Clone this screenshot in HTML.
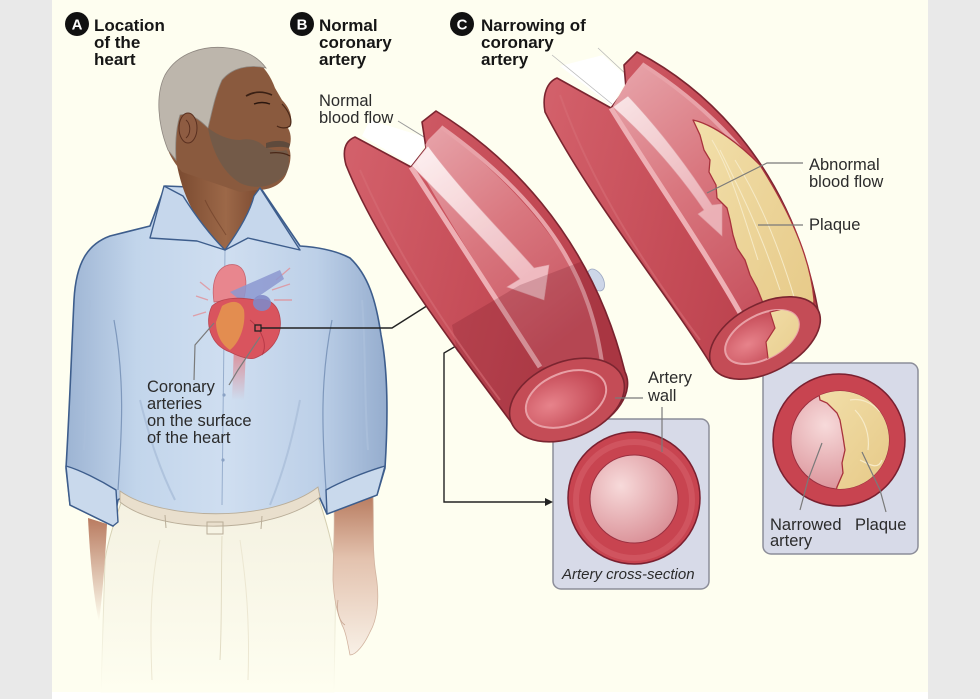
<!DOCTYPE html>
<html>
<head>
<meta charset="utf-8">
<style>
html,body{margin:0;padding:0;background:#e9e9e9;}
svg{display:block;}
text{font-family:"Liberation Sans",Arial,sans-serif;}
.h{font-weight:bold;font-size:17px;fill:#161616;}
.l{font-size:16.5px;fill:#2b2b2b;}
</style>
</head>
<body>
<svg width="980" height="699" viewBox="0 0 980 699" xmlns="http://www.w3.org/2000/svg">
<defs>
  <linearGradient id="shirtG" x1="0" y1="0" x2="1" y2="0">
    <stop offset="0" stop-color="#9DB4D3"/>
    <stop offset="0.22" stop-color="#C2D5EB"/>
    <stop offset="0.5" stop-color="#CFDEF0"/>
    <stop offset="0.78" stop-color="#BDD0E8"/>
    <stop offset="1" stop-color="#95ADCE"/>
  </linearGradient>
  <linearGradient id="pantsG" x1="0" y1="0" x2="0" y2="1">
    <stop offset="0" stop-color="#F4F1E1"/>
    <stop offset="1" stop-color="#FEFEF0"/>
  </linearGradient>
  <linearGradient id="pantsStroke" x1="0" y1="0" x2="0" y2="1">
    <stop offset="0" stop-color="#CDC6A6"/>
    <stop offset="1" stop-color="#FEFEF0"/>
  </linearGradient>
  <linearGradient id="tubeG" x1="0" y1="0" x2="1" y2="0.3">
    <stop offset="0" stop-color="#D4626C"/>
    <stop offset="0.6" stop-color="#C54C57"/>
    <stop offset="1" stop-color="#B9404C"/>
  </linearGradient>
  <linearGradient id="intG" x1="0" y1="0" x2="0.6" y2="1">
    <stop offset="0" stop-color="#E8A6AC"/>
    <stop offset="0.5" stop-color="#D9777F"/>
    <stop offset="1" stop-color="#C85460"/>
  </linearGradient>
  <linearGradient id="arrowG" x1="0" y1="0" x2="0.6" y2="1">
    <stop offset="0" stop-color="#FFF8F8"/>
    <stop offset="1" stop-color="#F1C2C7"/>
  </linearGradient>
  <radialGradient id="lumenG" cx="0.35" cy="0.35" r="0.8">
    <stop offset="0" stop-color="#F7DADA"/>
    <stop offset="1" stop-color="#D6868E"/>
  </radialGradient>
  <radialGradient id="capG" cx="0.3" cy="0.5" r="0.9">
    <stop offset="0" stop-color="#E7838B"/>
    <stop offset="1" stop-color="#B5303E"/>
  </radialGradient>
  <linearGradient id="skinR" x1="0" y1="0" x2="0" y2="1">
    <stop offset="0" stop-color="#B77A5E"/>
    <stop offset="0.4" stop-color="#E3C2AE"/>
    <stop offset="1" stop-color="#F8F0E6"/>
  </linearGradient>
  <linearGradient id="skinL" x1="0" y1="0" x2="0" y2="1">
    <stop offset="0" stop-color="#B97B60"/>
    <stop offset="1" stop-color="#FEFEF0"/>
  </linearGradient>
  <linearGradient id="neckG" x1="0" y1="0" x2="1" y2="0">
    <stop offset="0" stop-color="#7A4A30"/>
    <stop offset="0.6" stop-color="#9C6848"/>
    <stop offset="1" stop-color="#7E4C32"/>
  </linearGradient>
  <linearGradient id="aortaG" x1="0" y1="0" x2="0" y2="1">
    <stop offset="0" stop-color="#E07078"/>
    <stop offset="1" stop-color="#E07078" stop-opacity="0"/>
  </linearGradient>
  <linearGradient id="plaqueG" x1="0" y1="0" x2="1" y2="1">
    <stop offset="0" stop-color="#F2DFAA"/>
    <stop offset="1" stop-color="#E5C784"/>
  </linearGradient>
  <clipPath id="clipB">
    <path d="M355,137 L411,167 L426,148 L422,122 L436,111 C500,150 590,230 625,372 A60 38 -22 0 1 511,422 C450,340 380,250 346,165 C342,150 345,141 355,137 Z"/>
  </clipPath>
  <clipPath id="clipC2">
    <circle cx="840" cy="440" r="49"/>
  </clipPath>
  <clipPath id="clipCapC">
    <ellipse cx="762" cy="337" rx="40" ry="22" transform="rotate(-28 762 337)"/>
  </clipPath>
</defs>

<!-- backgrounds -->
<rect x="0" y="0" width="980" height="699" fill="#E9E9E9"/>
<rect x="52" y="0" width="876" height="692" fill="#FEFEF0"/>
<rect x="52" y="692" width="876" height="7" fill="#FFFFFF"/>

<!-- ================= MAN ================= -->
<path d="M122,500 C115,520 108,540 105,560 L101,692 L334,692 L336,570 C333,545 326,520 318,497 Z" fill="url(#pantsG)" stroke="url(#pantsStroke)" stroke-width="1"/>
<path d="M222,536 C221,580 222,620 220,660" stroke="#E2DCC4" stroke-width="1" fill="none"/>
<path d="M240,540 C246,580 250,620 248,680" stroke="#ECE7D2" stroke-width="1" fill="none"/>
<path d="M160,540 C150,580 150,630 152,680" stroke="#ECE7D2" stroke-width="1" fill="none"/>

<path d="M88,518 L107,524 C105,560 103,590 99,622 C94,600 90,560 88,518 Z" fill="url(#skinL)"/>
<path d="M334,508 L373,494 C374,530 372,550 376,575 C380,600 377,620 370,632 C364,645 356,655 350,655 C348,645 346,632 342,625 C337,612 334,600 333,580 C333,555 335,530 334,508 Z" fill="url(#skinR)" stroke="#D2B4A0" stroke-width="0.8"/>
<path d="M338,600 C336,612 340,622 345,625" stroke="#C8A894" stroke-width="0.8" fill="none"/>

<path d="M150,226 L110,236 C88,244 76,262 74,300 C72,340 70,400 66,468 L70,505 L113,526 L118,500 L122,497 C160,525 270,530 318,494 L327,514 L377,495 L385,468 C388,420 388,370 381,335 C376,300 368,275 350,258 C335,250 315,247 300,246 L262,190 L165,186 Z" fill="url(#shirtG)" stroke="#3D5D8C" stroke-width="1.6" stroke-linejoin="round"/>
<path d="M118,490 C122,430 125,380 114,320" stroke="#7E98BC" stroke-width="1.2" fill="none"/>
<path d="M326,490 C322,430 320,380 332,320" stroke="#7E98BC" stroke-width="1.2" fill="none"/>
<path d="M90,300 C86,350 88,400 84,450" stroke="#A9BEDA" stroke-width="2" fill="none"/>
<path d="M362,300 C366,350 364,400 368,450" stroke="#A9BEDA" stroke-width="2" fill="none"/>
<path d="M140,400 C150,440 160,470 175,500" stroke="#AFC3DD" stroke-width="2" fill="none"/>
<path d="M300,400 C292,440 284,470 270,505" stroke="#AFC3DD" stroke-width="2" fill="none"/>
<path d="M225,250 C224,330 223,420 222,505" stroke="#97AECD" stroke-width="1" fill="none"/>
<circle cx="224" cy="395" r="1.6" fill="#8AA2C4"/>
<circle cx="223" cy="460" r="1.6" fill="#8AA2C4"/>
<path d="M66,466 C80,470 100,480 116,490 L118,522 L113,526 L70,505 Z" fill="#C9D9EC" stroke="#3D5D8C" stroke-width="1.4" stroke-linejoin="round"/>
<path d="M385,466 C365,472 340,482 326,490 L327,514 L377,495 Z" fill="#C9D9EC" stroke="#3D5D8C" stroke-width="1.4" stroke-linejoin="round"/>
<path d="M120,491 C160,520 270,524 318,487 L320,497 C270,536 160,534 120,502 Z" fill="#E9DFCD" stroke="#B9AD98" stroke-width="0.9"/>
<rect x="207" y="522" width="16" height="12" fill="none" stroke="#B9AD98" stroke-width="1"/>
<line x1="165" y1="515" x2="166" y2="528" stroke="#B9AD98" stroke-width="1"/>
<line x1="262" y1="516" x2="261" y2="529" stroke="#B9AD98" stroke-width="1"/>

<path d="M176,160 C182,195 196,225 225,250 C240,232 252,212 259,186 L240,180 Z" fill="url(#neckG)"/>
<path d="M205,200 C212,215 220,225 226,235" stroke="#6A3C26" stroke-width="1" fill="none" opacity="0.6"/>

<path d="M168,150 C158,125 155,95 165,75 C178,52 205,45 228,48 C252,52 268,68 275,88 L282,100 C290,108 293,118 290,125 L288,128 C292,135 291,143 289,148 C292,155 290,165 287,172 C283,185 270,190 257,190 L240,192 L182,172 C176,165 171,158 168,150 Z" fill="#8A5A3E"/>
<path d="M168,150 C158,125 155,95 165,75 C178,52 205,45 228,48 C245,50 258,57 266,68 C248,64 232,68 222,80 C215,95 212,112 208,128 C200,120 190,112 180,115 C176,128 175,142 176,160 Z" fill="#BDB6AC" stroke="#8E8780" stroke-width="0.8"/>
<path d="M208,128 C212,150 222,172 240,183 C255,190 275,188 287,172 C290,162 289,152 286,150 C280,152 272,150 265,147 C258,140 250,138 240,140 C228,140 218,135 208,128 Z" fill="#6F5A4A" opacity="0.85"/>
<path d="M266,143 C275,140 284,140 290,144 L289,148 C282,146 274,147 266,148 Z" fill="#5E4A3C"/>
<ellipse cx="188" cy="128" rx="9" ry="15" fill="#8E5C42" stroke="#5A3020" stroke-width="1"/>
<path d="M186,120 C191,124 191,134 186,138" stroke="#5A3020" stroke-width="1" fill="none"/>
<path d="M246,96 Q258,89 272,95" stroke="#3A2014" stroke-width="1.6" fill="none"/>
<path d="M254,104 Q262,101 270,104" stroke="#2A160E" stroke-width="1.4" fill="none"/>
<path d="M282,104 C288,110 293,120 290,126 C286,129 280,128 277,126" stroke="#4A2818" stroke-width="1.2" fill="none"/>
<path d="M270,153 C278,152 285,153 290,156" stroke="#4A2818" stroke-width="1.2" fill="none"/>
<path d="M164,186 L150,238 L197,241 L225,250 C210,235 195,215 183,196 Z" fill="#C6D7EC" stroke="#3D5D8C" stroke-width="1.4" stroke-linejoin="round"/>
<path d="M260,188 L300,250 L248,238 L225,250 C238,232 250,212 254,196 Z" fill="#C6D7EC" stroke="#3D5D8C" stroke-width="1.4" stroke-linejoin="round"/>

<!-- heart -->
<g>
  <path d="M234,345 L246,345 L244,400 L232,400 Z" fill="url(#aortaG)" opacity="0.8"/>
  <g stroke="#E6868C" stroke-width="1.4" opacity="0.7">
    <line x1="208" y1="300" x2="196" y2="296"/>
    <line x1="206" y1="312" x2="193" y2="316"/>
    <line x1="210" y1="290" x2="200" y2="282"/>
    <line x1="272" y1="290" x2="290" y2="284"/>
    <line x1="274" y1="300" x2="292" y2="300"/>
    <line x1="276" y1="280" x2="290" y2="268"/>
  </g>
  <path d="M214,302 C210,275 222,262 236,265 C246,268 248,282 244,298 Z" fill="#E8868E" stroke="#C66470" stroke-width="0.8"/>
  <path d="M230,292 L280,270 L284,279 L246,305 Z" fill="#8C98D0" opacity="0.85"/>
  <path d="M212,306 C204,322 210,345 230,352 C240,357 250,360 255,358 C270,352 283,338 280,318 C278,304 268,297 255,300 C240,297 222,297 212,306 Z" fill="#D9545E" stroke="#B84450" stroke-width="0.8"/>
  <path d="M222,306 C232,300 240,300 244,310 C246,325 240,342 230,350 C222,345 216,335 216,322 Z" fill="#E6A04C" opacity="0.75"/>
  <ellipse cx="262" cy="303" rx="9" ry="8" fill="#7F88C6" opacity="0.9"/>
  <path d="M250,320 C262,330 268,345 262,355" stroke="#B83A48" stroke-width="1" fill="none"/>
</g>
<rect x="255" y="325" width="6" height="6" fill="#D9545E" stroke="#222" stroke-width="1.3"/>
<polyline points="261,328 392,328 433,302" fill="none" stroke="#222" stroke-width="1.4"/>
<path d="M439,298 L429,300 L434,307 Z" fill="#222"/>
<polyline points="214,323 195,345 194,380" fill="none" stroke="#7A7A7A" stroke-width="1.2"/>
<polyline points="260,337 238,370 229,385" fill="none" stroke="#7A7A7A" stroke-width="1.2"/>

<!-- ================= BOXES ================= -->
<rect x="553" y="419" width="156" height="170" rx="8" fill="#D7DAE8" stroke="#8C8D99" stroke-width="1.5"/>
<circle cx="634" cy="498" r="66" fill="#C84450" stroke="#7A2030" stroke-width="1.5"/>
<circle cx="634" cy="500" r="58" fill="none" stroke="#D8646E" stroke-width="6" opacity="0.5"/>
<circle cx="634" cy="499" r="44" fill="url(#lumenG)" stroke="#9A3040" stroke-width="1"/>

<rect x="763" y="363" width="155" height="191" rx="8" fill="#D7DAE8" stroke="#8C8D99" stroke-width="1.5"/>
<circle cx="839" cy="440" r="66" fill="#C84450" stroke="#7A2030" stroke-width="1.5"/>
<circle cx="840" cy="440" r="49" fill="url(#lumenG)" stroke="#9A3040" stroke-width="1"/>
<g clip-path="url(#clipC2)">
  <path d="M818,388 L820,400 L827,403 L837,413 L840,420 L843,437 L845,450 L842,463 L843,473 L837,487 L835,495 L900,495 L900,385 Z" fill="url(#plaqueG)" stroke="#A8323C" stroke-width="1.3"/>
  <path d="M855,410 C865,420 870,435 868,450 M860,460 C870,465 878,470 882,460 M850,400 C860,398 872,402 880,412" stroke="#F7EBC8" stroke-width="1.2" fill="none"/>
</g>
<line x1="662" y1="407" x2="662" y2="452" stroke="#7A7A7A" stroke-width="1.2"/>
<polyline points="822,443 808,480 800,510" fill="none" stroke="#7A7A7A" stroke-width="1.2"/>
<polyline points="862,452 880,490 886,512" fill="none" stroke="#7A7A7A" stroke-width="1.2"/>

<polyline points="456,346 444,353 444,502 547,502" fill="none" stroke="#222" stroke-width="1.4"/>
<path d="M553,502 L545,498 L545,506 Z" fill="#222"/>

<ellipse cx="461" cy="343" rx="6" ry="10" fill="#CDD6E8" stroke="#9CA8C2" stroke-width="0.8"/>
<ellipse cx="596" cy="280" rx="7" ry="12" transform="rotate(-30 596 280)" fill="#CDD6E8" stroke="#9CA8C2" stroke-width="0.8"/>

<!-- ================= ARTERY B ================= -->
<path d="M370,120 L428,138 L413,166 L362,136 Z" fill="#FFFFFF"/>
<line x1="398" y1="121" x2="424" y2="137" stroke="#9A9A9A" stroke-width="1"/>
<path d="M355,137 L411,167 L426,148 L422,122 L436,111 C500,150 590,230 625,372 A60 38 -22 0 1 511,422 C450,340 380,250 346,165 C342,150 345,141 355,137 Z" fill="url(#tubeG)" stroke="#7B2530" stroke-width="1.6" stroke-linejoin="round"/>
<g clip-path="url(#clipB)">
  <path d="M416,162 C450,225 500,300 540,367 L603,368 C596,300 565,225 441,127 L428,140 Z" fill="url(#intG)"/>
  <path d="M411,167 C450,228 500,305 540,367" stroke="#EEB0B5" stroke-width="5" fill="none"/>
  <path d="M441,127 C550,205 592,280 603,370" stroke="#E8A2A8" stroke-width="4" fill="none"/>
  <path d="M428,146 C460,190 505,235 534,268 L549,265 L544,300 L507,287 L520,279 C490,245 445,200 412,166 Z" fill="url(#arrowG)" opacity="0.92" stroke="#E3A6AC" stroke-width="0.6"/>
  <path d="M452,325 L520,285 L596,256 L660,300 L660,470 L480,470 Z" fill="#6A0F1C" opacity="0.2"/>
  <path d="M360,170 C395,250 440,320 500,400" stroke="#D66C75" stroke-width="2" fill="none" opacity="0.6"/>
</g>
<ellipse cx="567" cy="400" rx="60" ry="38" transform="rotate(-22 567 400)" fill="#C44C56" stroke="#7B2530" stroke-width="1.6"/>
<ellipse cx="566" cy="399" rx="42" ry="26" transform="rotate(-22 566 399)" fill="url(#capG)" stroke="#E8A0A6" stroke-width="2"/>

<!-- ================= ARTERY C ================= -->
<path d="M560,66 L603,55 L628,78 L612,106 Z" fill="#FFFFFF"/>
<line x1="552" y1="55" x2="612" y2="104" stroke="#B8B8B8" stroke-width="0.8"/>
<line x1="598" y1="48" x2="628" y2="76" stroke="#B8B8B8" stroke-width="0.8"/>
<path d="M557,78 L611,108 L626,88 L624,65 L637,52 C700,85 790,160 818,310 A60 34 -28 0 1 712,366 C665,290 590,200 545,112 C542,95 547,82 557,78 Z" fill="url(#tubeG)" stroke="#7B2530" stroke-width="1.6" stroke-linejoin="round"/>
<path d="M613,106 C650,170 700,240 743,318 L812,312 C802,230 762,140 642,64 L628,80 Z" fill="url(#intG)"/>
<path d="M611,108 C650,172 700,242 743,318" stroke="#EEB0B5" stroke-width="5" fill="none"/>
<path d="M642,64 C760,140 802,230 812,312" stroke="#E8A2A8" stroke-width="4" fill="none"/>
<path d="M628,96 C660,130 690,170 712,205 L722,204 L722,236 L698,214 L704,210 C680,175 650,140 613,107 Z" fill="url(#arrowG)" opacity="0.8" stroke="#E3A6AC" stroke-width="0.6"/>
<path d="M693,120 L700,135 L704,150 L710,160 L709,172 L716,185 L717,198 L727,208 L730,220 L733,235 L737,248 L745,260 L750,275 L757,288 L763,303 L770,315 L777,328 L768,340 L762,352 L760,362 L765,372 L790,362 L812,333 L814,300 C810,250 782,200 760,165 C740,145 715,125 693,120 Z" fill="url(#plaqueG)" stroke="#A8323C" stroke-width="1.3" stroke-linejoin="round"/>
<path d="M720,150 C740,190 760,230 780,290 M735,160 C760,200 780,250 795,300 M712,140 C730,170 742,210 758,260" stroke="#F6EAC6" stroke-width="1" fill="none"/>
<path d="M560,95 C590,180 640,260 700,340" stroke="#D66C75" stroke-width="2" fill="none" opacity="0.6"/>
<ellipse cx="765" cy="338" rx="60" ry="34" transform="rotate(-28 765 338)" fill="#C44C56" stroke="#7B2530" stroke-width="1.6"/>
<ellipse cx="762" cy="337" rx="40" ry="22" transform="rotate(-28 762 337)" fill="url(#capG)" stroke="#E8A0A6" stroke-width="2"/>
<g clip-path="url(#clipCapC)">
  <path d="M770,312 L775,328 L766,342 L768,358 L762,372 L820,372 L820,300 Z" fill="url(#plaqueG)" stroke="#A8323C" stroke-width="1.2"/>
</g>

<polyline points="803,163 767,163 707,193" fill="none" stroke="#7A7A7A" stroke-width="1.2"/>
<line x1="803" y1="225" x2="758" y2="225" stroke="#7A7A7A" stroke-width="1.2"/>
<line x1="615" y1="398" x2="643" y2="398" stroke="#7A7A7A" stroke-width="1.2"/>

<!-- ================= TEXT ================= -->
<circle cx="77" cy="24" r="12" fill="#111"/>
<text x="77" y="29.5" text-anchor="middle" style="font-weight:bold;font-size:15px;fill:#fff">A</text>
<text class="h" x="94" y="31">Location</text>
<text class="h" x="94" y="48">of the</text>
<text class="h" x="94" y="65">heart</text>

<circle cx="302" cy="24" r="12" fill="#111"/>
<text x="302" y="29.5" text-anchor="middle" style="font-weight:bold;font-size:15px;fill:#fff">B</text>
<text class="h" x="319" y="31">Normal</text>
<text class="h" x="319" y="48">coronary</text>
<text class="h" x="319" y="65">artery</text>

<circle cx="462" cy="24" r="12" fill="#111"/>
<text x="462" y="29.5" text-anchor="middle" style="font-weight:bold;font-size:15px;fill:#fff">C</text>
<text class="h" x="481" y="31">Narrowing of</text>
<text class="h" x="481" y="48">coronary</text>
<text class="h" x="481" y="65">artery</text>

<text class="l" x="319" y="106">Normal</text>
<text class="l" x="319" y="123">blood flow</text>

<text class="l" x="147" y="392">Coronary</text>
<text class="l" x="147" y="409">arteries</text>
<text class="l" x="147" y="426">on the surface</text>
<text class="l" x="147" y="443">of the heart</text>

<text class="l" x="809" y="170">Abnormal</text>
<text class="l" x="809" y="187">blood flow</text>
<text class="l" x="809" y="230">Plaque</text>

<text class="l" x="648" y="383">Artery</text>
<text class="l" x="648" y="401">wall</text>

<text x="562" y="579" style="font-style:italic;font-size:15px;fill:#2b2b2b">Artery cross-section</text>

<text class="l" x="770" y="530">Narrowed</text>
<text class="l" x="770" y="546">artery</text>
<text class="l" x="855" y="530">Plaque</text>
</svg>
</body>
</html>
